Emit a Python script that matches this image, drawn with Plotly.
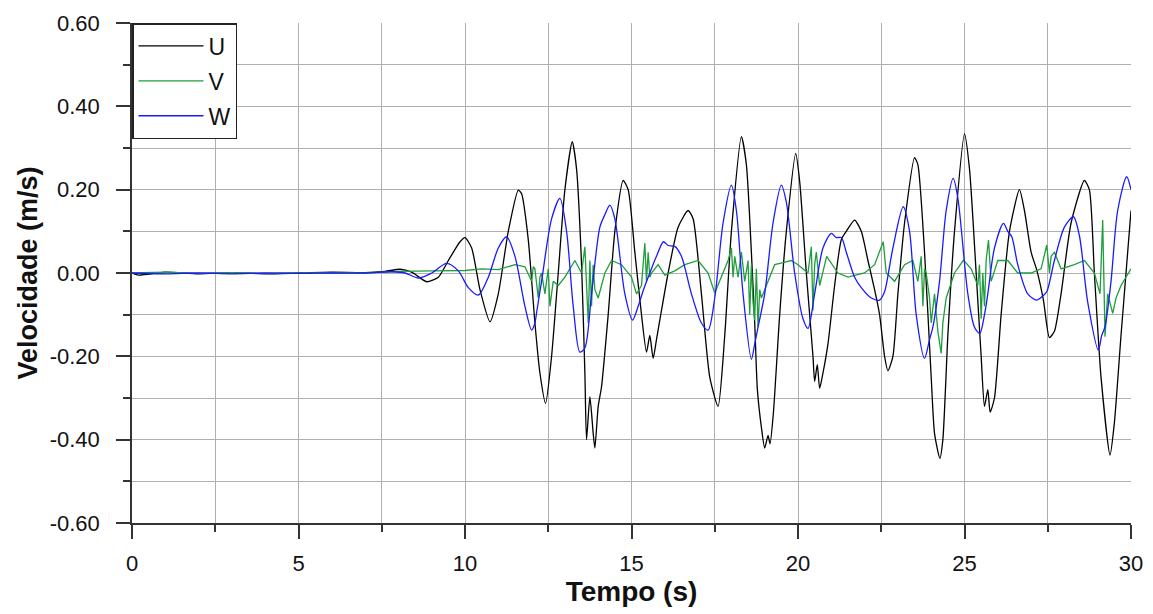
import plotly.graph_objects as go

# ---- data (time in s, velocity in m/s) ----
t_u = [0.0, 0.2, 1.0, 2.0, 3.0, 4.0, 5.0, 6.0, 7.0, 7.6, 8.05, 8.4, 8.85, 9.2, 9.5, 9.85, 10.0,
       10.2, 10.45, 10.75, 11.0, 11.3, 11.6, 11.7, 11.9, 12.1, 12.25, 12.42, 12.6, 12.8, 13.0,
       13.22, 13.35, 13.5, 13.6, 13.65, 13.75, 13.85, 13.9, 14.0, 14.1, 14.3, 14.5, 14.75, 14.9,
       15.1, 15.3, 15.45, 15.55, 15.65, 15.75, 15.9, 16.1, 16.4, 16.7, 16.85, 17.1, 17.35, 17.6,
       17.8, 18.0, 18.3, 18.45, 18.6, 18.7, 18.78, 18.9, 19.0, 19.1, 19.16, 19.26, 19.45, 19.65,
       19.93, 20.05, 20.25, 20.45, 20.5, 20.58, 20.65, 20.75, 20.9, 21.1, 21.3, 21.45, 21.7, 21.9,
       22.1, 22.3, 22.45, 22.6, 22.7, 22.85, 23.0, 23.2, 23.5, 23.6, 23.8, 24.0, 24.1, 24.26,
       24.35, 24.5, 24.7, 25.0, 25.15, 25.35, 25.5, 25.6, 25.7, 25.77, 25.9, 26.1, 26.35, 26.65,
       26.8, 27.0, 27.17, 27.37, 27.55, 27.7, 27.9, 28.2, 28.6, 28.75, 28.9, 29.1, 29.37, 29.5,
       29.7, 29.85, 30.0]
u = [0.0, -0.005, 0.002, -0.002, 0.001, -0.002, 0.0, 0.002, 0.001, 0.004, 0.009, 0.002, -0.021,
     -0.01, 0.03, 0.075, 0.085, 0.06, -0.04, -0.117, -0.05, 0.1, 0.199, 0.19, 0.08, -0.12, -0.24,
     -0.313, -0.2, 0.0, 0.2, 0.315, 0.25, 0.02, -0.24, -0.40, -0.297, -0.385, -0.42, -0.32, -0.273,
     -0.1, 0.1, 0.222, 0.2, 0.05, -0.1, -0.19, -0.15, -0.205, -0.16, -0.09, 0.0, 0.11, 0.15, 0.13,
     -0.05, -0.25, -0.32, -0.15, 0.1, 0.327, 0.26, 0.05, -0.12, -0.28, -0.37, -0.42, -0.39, -0.41,
     -0.337, -0.1, 0.1, 0.287, 0.22, 0.0, -0.2, -0.26, -0.22, -0.277, -0.24, -0.17, -0.03, 0.08,
     0.1, 0.127, 0.1, 0.03, -0.04, -0.1, -0.2, -0.235, -0.2, -0.05, 0.12, 0.277, 0.26, 0.05, -0.25,
     -0.385, -0.445, -0.4, -0.15, 0.1, 0.334, 0.25, 0.0, -0.2, -0.32, -0.28, -0.334, -0.3, -0.1,
     0.1, 0.2, 0.15, 0.05, 0.007, -0.065, -0.155, -0.14, -0.05, 0.12, 0.222, 0.2, 0.0, -0.25,
     -0.437, -0.36, -0.15, 0.0, 0.15]

t_v = [0, 1, 2, 3, 4, 5, 6, 7, 8, 9, 10, 10.5, 11.0, 11.5, 11.8, 12.0, 12.05, 12.1, 12.2, 12.25,
       12.3, 12.4, 12.5, 12.55, 12.65, 12.8, 13.0, 13.3, 13.5, 13.6, 13.65, 13.7, 13.75, 13.8,
       13.85, 13.9, 14.0, 14.2, 14.4, 14.7, 15.0, 15.15, 15.3, 15.4, 15.45, 15.5, 15.55, 15.6,
       15.8, 16.0, 16.3, 16.6, 17.0, 17.3, 17.5, 17.7, 17.9, 18.0, 18.05, 18.1, 18.2, 18.3, 18.4,
       18.5, 18.55, 18.6, 18.65, 18.7, 18.75, 18.8, 18.85, 18.9, 19.1, 19.3, 19.55, 19.8, 20.0,
       20.3, 20.4, 20.45, 20.5, 20.55, 20.65, 20.86, 21.2, 21.5, 22.0, 22.3, 22.56, 22.65, 22.9,
       23.2, 23.45, 23.6, 23.7, 23.75, 23.8, 23.85, 23.95, 24.0, 24.1, 24.2, 24.3, 24.35, 24.45,
       24.7, 24.97, 25.2, 25.4, 25.45, 25.5, 25.55, 25.6, 25.65, 25.72, 25.8, 26.0, 26.3, 26.6,
       27.0, 27.3, 27.47, 27.55, 27.6, 27.7, 27.9, 28.3, 28.6, 28.9, 29.0, 29.07, 29.15, 29.22,
       29.3, 29.45, 29.55, 29.7, 30.0]
v = [0.0, 0.002, -0.001, 0.001, -0.001, 0.0, 0.001, 0.0, 0.004, 0.005, 0.006, 0.01, 0.008, 0.02,
     0.015, -0.02, 0.015, 0.01, -0.06, -0.01, 0.0, -0.05, 0.01, -0.08, -0.02, -0.03, -0.01, 0.03,
     0.0, 0.063, -0.05, -0.12, 0.03, -0.08, 0.02, -0.04, -0.06, 0.0, 0.03, 0.02, -0.01, -0.05,
     -0.03, 0.072, -0.02, 0.05, -0.01, 0.0, 0.02, -0.005, 0.005, 0.02, 0.03, 0.0, -0.048, -0.01,
     0.03, 0.06, -0.01, 0.04, -0.01, 0.05, -0.02, 0.03, -0.1, 0.02, -0.07, -0.113, 0.01, -0.13,
     -0.04, -0.06, -0.02, 0.02, 0.025, 0.03, 0.02, 0.0, 0.063, -0.09, 0.02, 0.05, -0.03, 0.04, 0.0,
     -0.01, 0.0, 0.02, 0.075, 0.0, -0.02, 0.02, 0.03, -0.02, 0.04, -0.08, 0.01, 0.0, -0.06, -0.12,
     -0.05, -0.14, -0.193, -0.12, -0.06, 0.0, 0.031, 0.01, -0.03, 0.02, -0.11, 0.0, -0.08, 0.03,
     0.079, -0.02, 0.03, 0.03, 0.0, 0.0, 0.01, 0.067, 0.0, 0.04, 0.05, 0.01, 0.02, 0.03, 0.0,
     -0.03, -0.05, 0.127, -0.153, -0.05, -0.097, -0.06, -0.03, 0.01]

t_w = [0, 1, 2, 3, 4, 5, 6, 7, 7.8, 8.2, 8.6, 9.0, 9.45, 9.8, 10.1, 10.4, 10.7, 11.0, 11.25,
       11.5, 11.8, 12.0, 12.1, 12.15, 12.3, 12.6, 12.85, 13.05, 13.25, 13.45, 13.6, 13.8, 14.05,
       14.2, 14.35, 14.5, 14.8, 15.03, 15.2, 15.36, 15.55, 15.75, 15.96, 16.1, 16.3, 16.5, 16.8,
       17.1, 17.3, 17.5, 17.75, 18.0, 18.15, 18.35, 18.6, 18.7, 18.8, 19.0, 19.25, 19.5, 19.65,
       19.9, 20.15, 20.3, 20.5, 20.75, 21.0, 21.15, 21.3, 21.45, 21.7, 21.9, 22.2, 22.45, 22.6,
       22.66, 22.85, 23.16, 23.35, 23.55, 23.8, 23.95, 24.05, 24.25, 24.45, 24.66, 24.8, 25.1,
       25.3, 25.46, 25.6, 25.7, 25.9, 26.17, 26.3, 26.42, 26.6, 26.9, 27.17, 27.35, 27.47, 27.7,
       28.0, 28.27, 28.45, 28.7, 29.02, 29.12, 29.22, 29.4, 29.6, 29.87, 30.0]
w = [0.0, -0.002, 0.0, -0.002, 0.0, -0.001, 0.0, 0.0, 0.003, 0.0, -0.012, 0.0, 0.023, 0.005,
     -0.035, -0.053, -0.01, 0.06, 0.087, 0.04, -0.08, -0.137, -0.12, -0.095, -0.02, 0.13, 0.179,
     0.1, -0.08, -0.19, -0.18, -0.05, 0.11, 0.14, 0.163, 0.13, -0.05, -0.113, -0.08, -0.04, 0.0,
     0.04, 0.075, 0.066, 0.064, 0.04, -0.05, -0.12, -0.137, -0.06, 0.12, 0.211, 0.15, -0.05,
     -0.207, -0.17, -0.13, -0.05, 0.12, 0.211, 0.17, 0.0, -0.11, -0.133, -0.05, 0.06, 0.095,
     0.085, 0.085, 0.05, -0.01, -0.035, -0.06, -0.065, -0.045, -0.025, 0.06, 0.159, 0.1, -0.1,
     -0.205, -0.16, -0.13, -0.02, 0.15, 0.227, 0.18, -0.05, -0.13, -0.145, -0.1, -0.05, 0.06,
     0.119, 0.1, 0.087, 0.02, -0.05, -0.065, -0.055, -0.045, 0.03, 0.11, 0.135, 0.09, -0.07,
     -0.185, -0.15, -0.129, -0.02, 0.15, 0.231, 0.2]

y_tickvals = [-0.6, -0.4, -0.2, 0.0, 0.2, 0.4, 0.6]
y_ticktext = ["-0.60", "-0.40", "-0.20", "0.00", "0.20", "0.40", "0.60"]

FONT = "Liberation Sans, Arial, sans-serif"
AXC = "#333333"
GRIDC = "#b0b0b0"

fig = go.Figure()
fig.add_trace(go.Scatter(x=t_u, y=u, name="U", mode="lines", legendgroup="U",
                         line=dict(color="#000000", width=1.3, shape="spline", smoothing=0.6)))
fig.add_trace(go.Scatter(x=t_v, y=v, name="V", mode="lines", legendgroup="V",
                         line=dict(color="#1f9e3c", width=1.3)))
fig.add_trace(go.Scatter(x=t_w, y=w, name="W", mode="lines", legendgroup="W",
                         line=dict(color="#1a1aff", width=1.3, shape="spline", smoothing=0.8)))

# the page body adds an 8px offset, so the figure is drawn 8px smaller
fig.update_layout(
    width=1145, height=606,
    margin=dict(l=124, r=22, t=15, b=91, autoexpand=False),
    paper_bgcolor="white", plot_bgcolor="white",
    font=dict(family=FONT, size=22, color="#111111"),
    showlegend=True,
    legend=dict(x=0, y=1, xanchor="left", yanchor="top",
                bordercolor="#222222", borderwidth=1.5, bgcolor="white",
                font=dict(family=FONT, size=23, color="#111111"),
                tracegroupgap=2, itemwidth=65, entrywidth=100, entrywidthmode="pixels"),
)
fig.update_xaxes(
    range=[0, 30], dtick=5, tick0=0,
    showline=True, linecolor=AXC, linewidth=1.5,
    ticks="outside", ticklen=14, tickwidth=1.5, tickcolor=AXC,
    showgrid=True, gridcolor=GRIDC, gridwidth=1,
    zeroline=False,
    minor=dict(dtick=2.5, ticks="outside", ticklen=7, tickwidth=1.5, tickcolor=AXC,
               showgrid=True, gridcolor=GRIDC, gridwidth=1),
    tickfont=dict(family=FONT, size=22),
    ticklabelstandoff=6,
    title=dict(text="<b>Tempo (s)</b>", font=dict(family=FONT, size=28), standoff=2),
)
fig.update_yaxes(
    range=[-0.6, 0.6], tickmode="array", tickvals=y_tickvals, ticktext=y_ticktext,
    showline=True, linecolor=AXC, linewidth=1.5,
    ticks="outside", ticklen=14, tickwidth=1.5, tickcolor=AXC,
    showgrid=True, gridcolor=GRIDC, gridwidth=1,
    zeroline=False,
    minor=dict(tickmode="linear", tick0=0, dtick=0.1, ticks="outside", ticklen=7,
               tickwidth=1.5, tickcolor=AXC, showgrid=True, gridcolor=GRIDC, gridwidth=1),
    tickfont=dict(family=FONT, size=22),
    ticklabelstandoff=12,
    title=dict(text="<b>Velocidade (m/s)</b>", font=dict(family=FONT, size=27), standoff=4),
)

fig.write_html("out.html")
